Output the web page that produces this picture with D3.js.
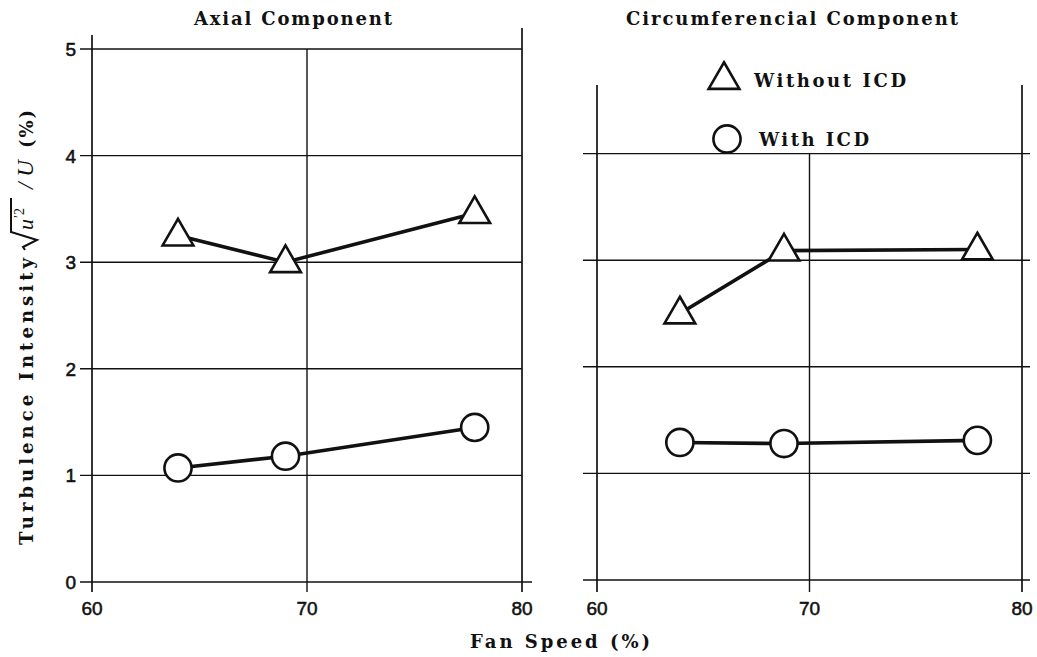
<!DOCTYPE html>
<html>
<head>
<meta charset="utf-8">
<script src="https://cdn.jsdelivr.net/npm/d3@7"></script>
<style>
  html, body { margin: 0; padding: 0; background: #fff; }
  svg { display: block; }
  .lbl { font-family: "DejaVu Serif", "Liberation Serif", serif; font-weight: bold; fill: #111; }
  .num { font-family: "Liberation Sans", Arial, sans-serif; fill: #111; font-size: 19px; stroke: #111; stroke-width: 0.55px; }
</style>
</head>
<body>
<svg id="chart" width="1037" height="657"></svg>
<script>
// Fan speed (%) at which each measurement was taken
const fanSpeedAxial = [64, 69, 77.8];
const fanSpeedCirc = [63.9, 68.8, 77.9];

// Turbulence intensity (%) – axial component
const axialWithout = [3.25, 3.0, 3.46];
const axialWith = [1.07, 1.18, 1.45];

// Turbulence intensity (%) – circumferential component
const circWithout = [2.5, 3.09, 3.1];
const circWith = [1.29, 1.28, 1.31];

const xTicks = [60, 70, 80];
const yTicks = [0, 1, 2, 3, 4, 5];
const panelTitles = ["Axial Component", "Circumferencial Component"];
const legendLabels = ["Without ICD", "With ICD"];

const svg = d3.select("#chart");
const ink = "#111";

// panel scales
const xL = d3.scaleLinear().domain([60, 80]).range([92, 522]);
const yL = d3.scaleLinear().domain([0, 5]).range([582, 49]);
const xR = d3.scaleLinear().domain([60, 80]).range([597, 1022]);
const yR = d3.scaleLinear().domain([0, 5]).range([580, 47]);

function line(x1, y1, x2, y2, w) {
  svg.append("line").attr("x1", x1).attr("y1", y1).attr("x2", x2).attr("y2", y2)
    .attr("stroke", ink).attr("stroke-width", w);
}

// typewriter-style label spread over a fixed width
function spaced(parent, x, y, size, len, str) {
  return parent.append("text").attr("class", "lbl").attr("x", x).attr("y", y)
    .attr("font-size", size).attr("textLength", len).attr("lengthAdjust", "spacing")
    .text(str);
}

// ---- left panel frame and grid ----
yTicks.forEach(t => line(80, yL(t), t === 0 ? 532 : 522, yL(t), 1.4));
line(xL(60), 35, xL(60), 592, 1.7);
line(xL(70), yL(5), xL(70), 592, 1.4);
line(xL(80), 28, xL(80), 592, 1.7);

svg.selectAll(".ytick").data(yTicks).enter().append("text")
  .attr("class", "num").attr("x", 76).attr("y", d => yL(d) + 7)
  .attr("text-anchor", "end").text(d => d);

// ---- right panel frame and grid ----
[0, 1, 2, 3, 4].forEach(t => line(583, yR(t), 1030, yR(t), 1.4));
line(xR(60), 85, xR(60), 592, 1.7);
line(xR(70), yR(4), xR(70), 592, 1.4);
line(xR(80), 85, xR(80), 592, 1.7);

// x tick labels
[xL, xR].forEach(sc => {
  svg.append("g").selectAll("text").data(xTicks).enter().append("text")
    .attr("class", "num").attr("x", d => sc(d)).attr("y", 615)
    .attr("text-anchor", "middle").text(d => d);
});

// ---- titles ----
spaced(svg, 194, 25, 18, 198, panelTitles[0]);
spaced(svg, 626, 25, 18, 332, panelTitles[1]);
spaced(svg, 470, 648, 18, 180, "Fan Speed (%)");

// ---- y axis title (rotated) ----
const yt = svg.append("g").attr("transform", "translate(33,0) rotate(-90)");
spaced(yt, -545, 0, 18, 287, "Turbulence Intensity");
// radical sign with the overline over u'^2
yt.append("path")
  .attr("d", "M-250,-8 L-247,-10 L-240,4 L-232,-22 L-198,-22")
  .attr("fill", "none").attr("stroke", ink).attr("stroke-width", 2);
yt.append("text").attr("x", -230).attr("y", 0).attr("font-size", 22)
  .attr("font-family", "Liberation Serif, serif").attr("font-style", "italic").attr("fill", ink)
  .text("u");
yt.append("text").attr("x", -218).attr("y", -9).attr("font-size", 14)
  .attr("font-family", "Liberation Serif, serif").attr("fill", ink).text("′2");
yt.append("text").attr("x", -189).attr("y", 0).attr("font-size", 23)
  .attr("font-family", "Liberation Serif, serif").attr("font-style", "italic").attr("fill", ink)
  .text("/ U");
spaced(yt, -148, 0, 18, 38, "(%)");

// ---- data ----
const triangle = d3.symbol().type(d3.symbolTriangle).size(410);
const circle = d3.symbol().type(d3.symbolCircle).size(580);

function series(xs, ys, sx, sy, sym, dy) {
  const pts = xs.map((x, i) => [sx(x), sy(ys[i])]);
  svg.append("path").attr("d", d3.line()(pts))
    .attr("fill", "none").attr("stroke", ink).attr("stroke-width", 3.6);
  svg.append("g").selectAll("path").data(pts).enter().append("path")
    .attr("d", sym)
    .attr("transform", d => `translate(${d[0]},${d[1] + dy})`)
    .attr("fill", "#fff").attr("stroke", ink).attr("stroke-width", 2.6);
}

series(fanSpeedAxial, axialWithout, xL, yL, triangle, 1);
series(fanSpeedAxial, axialWith, xL, yL, circle, 0);
series(fanSpeedCirc, circWithout, xR, yR, triangle, 1);
series(fanSpeedCirc, circWith, xR, yR, circle, 0);

// ---- legend ----
svg.append("path").attr("d", triangle).attr("transform", "translate(724,80)")
  .attr("fill", "#fff").attr("stroke", ink).attr("stroke-width", 2.6);
spaced(svg, 754, 87, 18, 152, legendLabels[0]);
svg.append("path").attr("d", circle).attr("transform", "translate(727,139)")
  .attr("fill", "#fff").attr("stroke", ink).attr("stroke-width", 2.6);
spaced(svg, 759, 146, 18, 110, legendLabels[1]);
</script>
</body>
</html>
